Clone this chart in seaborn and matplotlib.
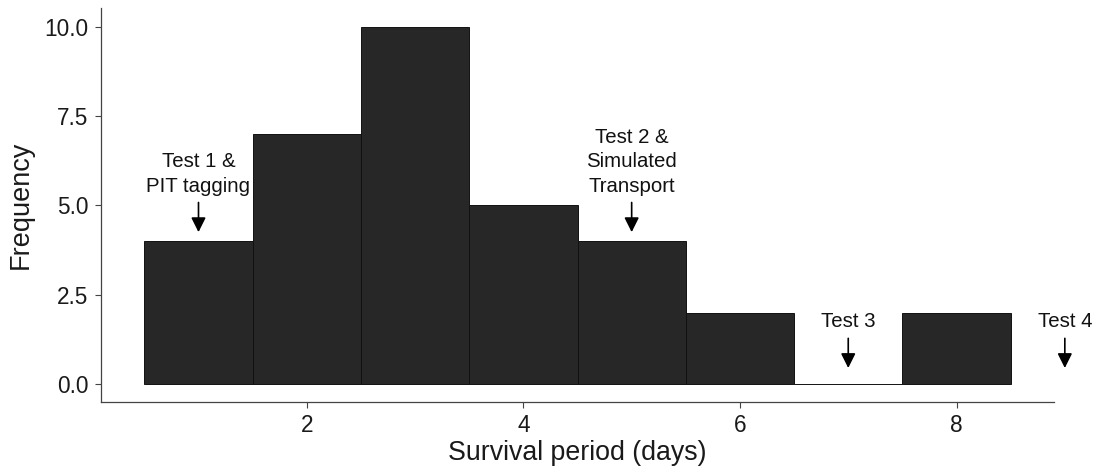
import matplotlib
matplotlib.use("Agg")
import matplotlib.pyplot as plt
import seaborn as sns
import numpy as np

# Data
days = [1, 2, 3, 4, 5, 6, 7, 8]
counts = [4, 7, 10, 5, 4, 2, 0, 2]
yticks = [0.0, 2.5, 5.0, 7.5, 10.0]
xticks = [2, 4, 6, 8]
event_labels = ["Test 1 &\nPIT tagging", "Test 2 &\nSimulated\nTransport", "Test 3", "Test 4"]
event_days = [1, 5, 7, 9]
event_tips = [4.25, 4.25, 0.45, 0.45]

sns.set_theme(style="ticks")
plt.rcParams['font.family'] = ['Liberation Sans', 'DejaVu Sans']

fig = plt.figure(figsize=(10.97, 4.70), dpi=100)
ax = fig.add_axes([0.0921, 0.1447, 0.9608 - 0.0921, 0.983 - 0.1447])

sns.histplot(x=days, weights=counts, discrete=True, ax=ax,
             color="#272727", alpha=1.0, edgecolor="#111111", linewidth=0.7)

ax.set_xlim(0.1, 8.9)
ax.set_ylim(-0.5, 10.52)
ax.set_yticks(yticks)
ax.set_yticklabels([f"{v:.1f}" for v in yticks])
ax.set_xticks(xticks)
ax.set_xticklabels([str(v) for v in xticks])
ax.tick_params(labelsize=16.3, length=4, width=0.8, color="#444444", labelcolor="#1a1a1a", pad=5)
for s in ["top", "right"]:
    ax.spines[s].set_visible(False)
for s in ["left", "bottom"]:
    ax.spines[s].set_color("#444444")
    ax.spines[s].set_linewidth(0.9)

ax.set_xlabel("Survival period (days)", fontsize=19.3, color="#1a1a1a", labelpad=2)
ax.set_ylabel("Frequency", fontsize=19.5, color="#1a1a1a", labelpad=8)

arrow_len = 0.83
for lab, x, tip in zip(event_labels, event_days, event_tips):
    start = tip + arrow_len
    ax.annotate("", xy=(x, tip), xytext=(x, start),
                arrowprops=dict(arrowstyle="-|>", color="black", lw=1.2,
                                mutation_scale=22, shrinkA=0, shrinkB=0),
                annotation_clip=False)
    ax.annotate(lab, xy=(x, start), xytext=(0, 5), textcoords="offset points",
                ha="center", va="bottom", fontsize=14.7, color="#111111",
                annotation_clip=False, linespacing=1.35)

fig.savefig("out.png", dpi=100)
